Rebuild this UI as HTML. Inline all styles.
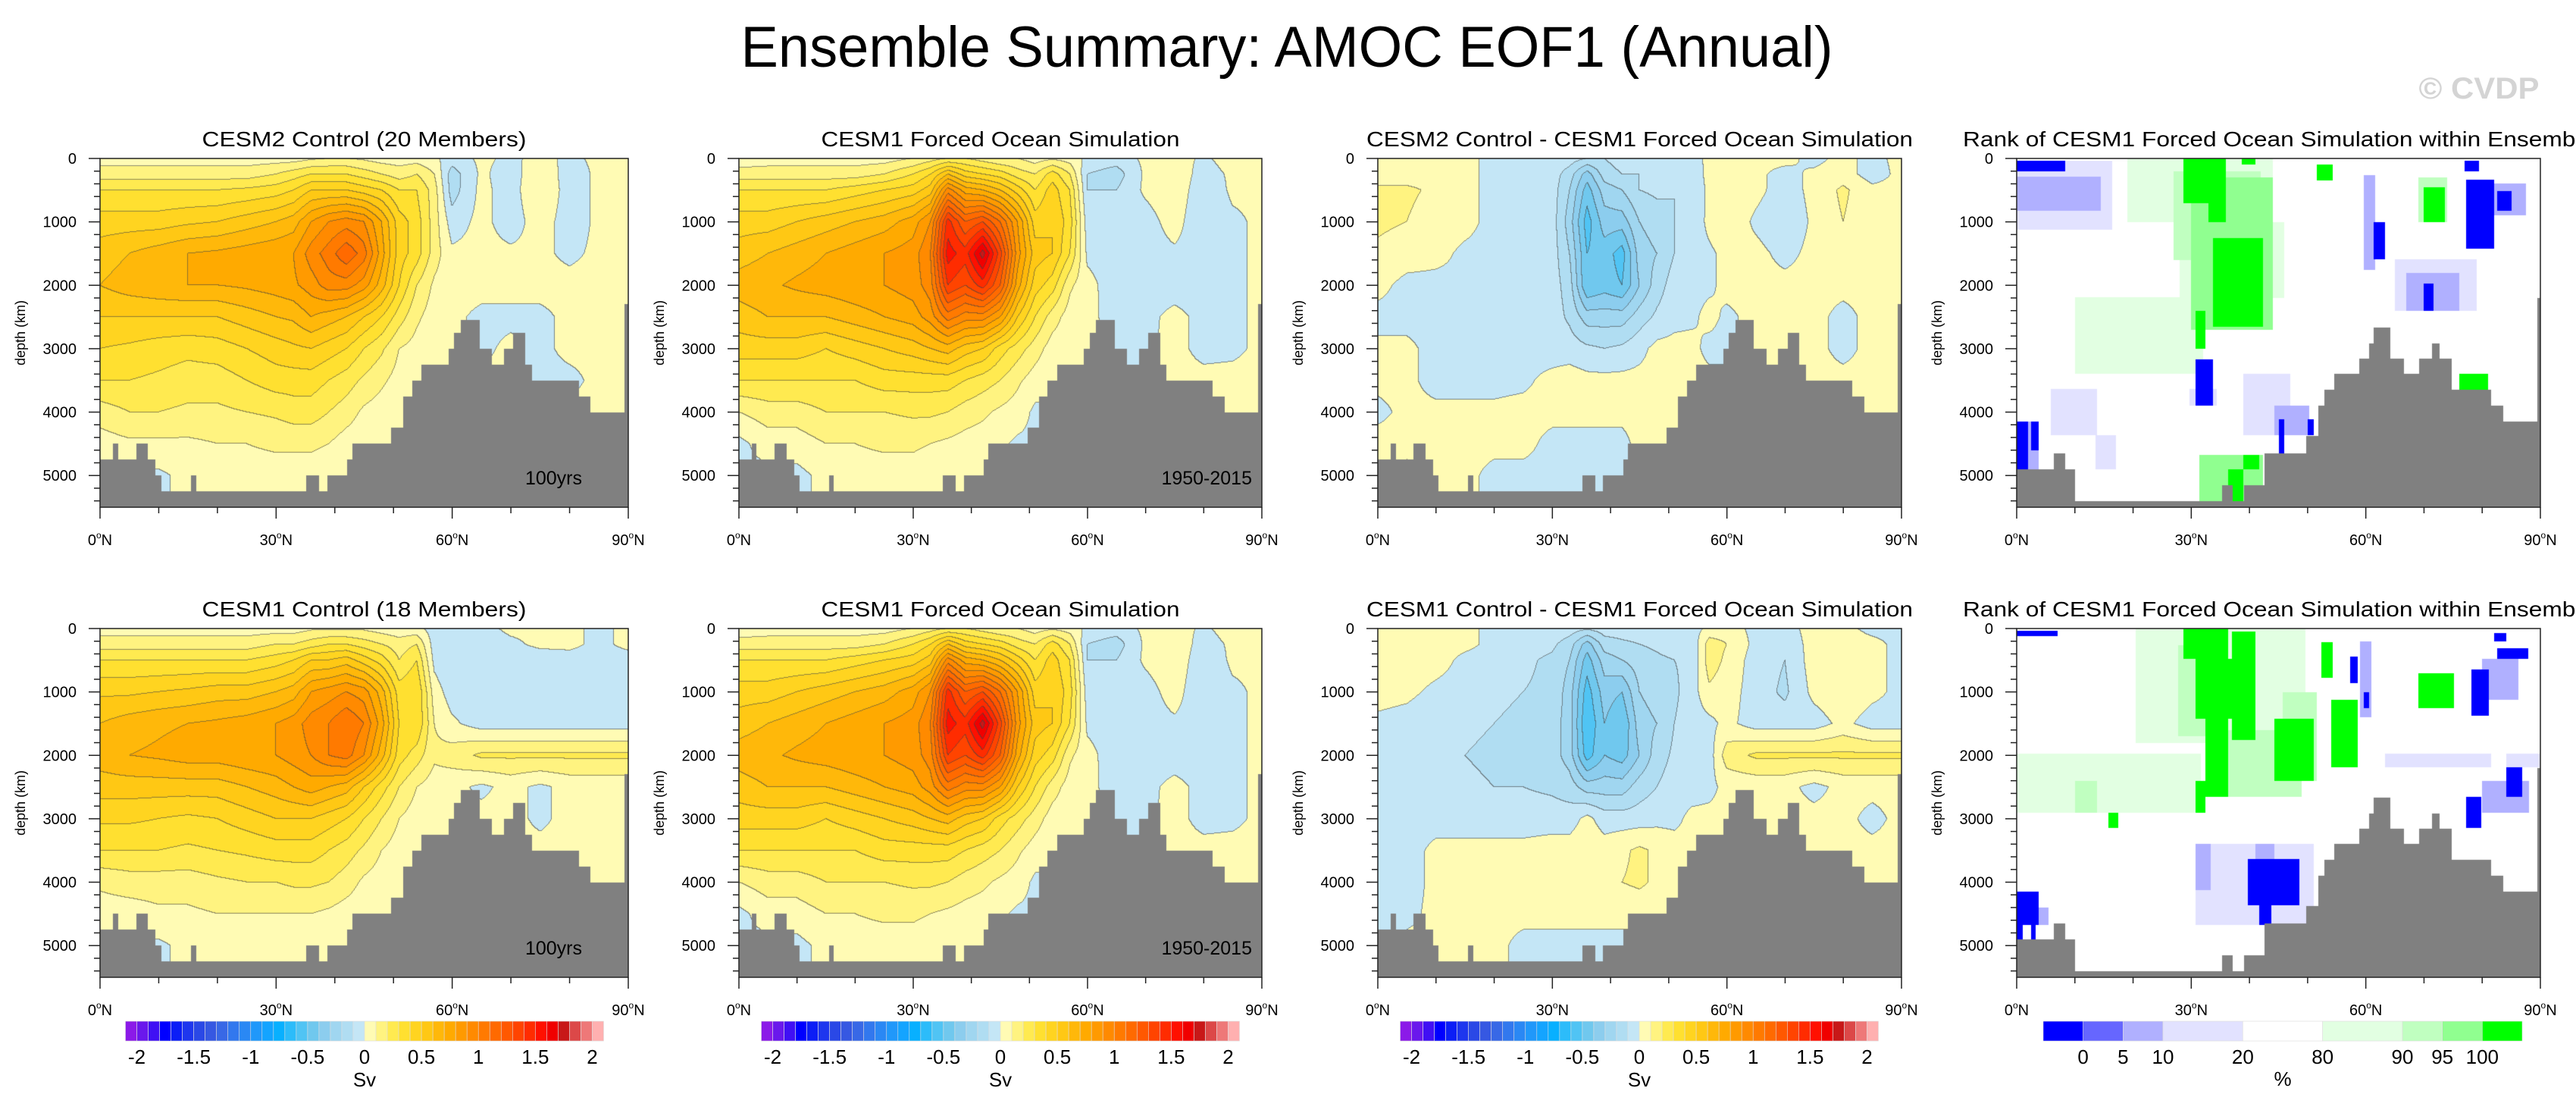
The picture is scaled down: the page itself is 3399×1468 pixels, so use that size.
<!DOCTYPE html>
<html><head><meta charset="utf-8"><style>
html,body{margin:0;padding:0;background:#fff;}
#wrap{position:relative;width:3399px;height:1468px;overflow:hidden;background:#fff;font-family:"Liberation Sans",sans-serif;}
canvas{position:absolute;}
svg{position:absolute;left:0;top:0;}
</style></head><body>
<div id="wrap">
<svg id="ov" width="3399" height="1468" viewBox="0 0 3399 1468">
<text x="1698" y="88" font-size="76" text-anchor="middle" textLength="1441" lengthAdjust="spacingAndGlyphs" font-family="Liberation Sans, sans-serif">Ensemble Summary: AMOC EOF1 (Annual)</text>
<text x="3271" y="130" font-size="40" font-weight="bold" fill="#d4d4d4" text-anchor="middle" textLength="159" lengthAdjust="spacingAndGlyphs" font-family="Liberation Sans, sans-serif">© CVDP</text>
</svg>
</div>
<script>
// ---- data ----
const lats = [0,5,10,15,20,25,30,33,36,39,42,45,48,51,54,57,60,65,70,75,80,85,90];
const deps = [0,250,500,1000,1500,2000,2500,3000,3500,4000,4500,5000,5500];

const fieldCesm2Ctrl = [
[.05,.05,.05,.05,.05,.05,.05,.05,.08,.1,.1,.08,.05,.05,.05,.02,-.05,.02,-.02,.03,-.02,.02,.02],
[.15,.15,.15,.15,.15,.15,.2,.25,.3,.3,.3,.25,.2,.15,.2,.1,-.15,.02,-.05,.08,-.05,.02,.02],
[.3,.3,.3,.3,.3,.32,.35,.4,.5,.5,.5,.45,.4,.3,.3,.15,-.15,.03,-.05,.1,-.05,.02,.02],
[.45,.45,.45,.48,.5,.55,.6,.65,.8,.9,.95,.9,.7,.45,.35,.15,-.05,.03,-.05,.05,-.05,.02,.02],
[.55,.6,.65,.7,.72,.75,.78,.8,.95,1.05,1.18,1.05,.75,.45,.35,.15,.02,.03,.02,.02,-.02,.02,.02],
[.6,.65,.68,.7,.7,.72,.75,.78,.85,.95,.95,.85,.65,.4,.2,.08,.03,.03,.03,.03,.03,.03,.03],
[.5,.5,.5,.5,.5,.55,.6,.62,.7,.65,.6,.5,.4,.25,.12,.05,.02,-.02,-.02,-.02,.02,.02,.02],
[.4,.38,.35,.33,.35,.4,.45,.48,.5,.45,.4,.3,.22,.1,.06,.03,.02,-.02,.02,-.02,.02,.02,.02],
[.3,.3,.28,.25,.25,.3,.35,.35,.35,.3,.25,.18,.12,.06,.03,.02,.02,.02,.02,-.02,-.02,.02,.02],
[.15,.2,.2,.18,.18,.2,.22,.25,.25,.2,.15,.08,.05,.03,.02,.02,.02,.02,.02,.02,.02,.02,.02],
[.05,.08,.08,.08,.1,.1,.12,.12,.12,.1,.05,.03,.03,.02,.02,.02,.02,.02,.02,.02,.02,.02,.02],
[-.02,-.02,-.02,.03,.05,.05,.05,.05,.05,.03,.02,-.02,.02,.02,.02,.02,.02,.02,.02,.02,.02,.02,.02],
[-.02,-.02,-.02,.03,.05,.05,.05,.05,.05,.03,.02,-.02,.02,.02,.02,.02,.02,.02,.02,.02,.02,.02,.02]];

const fieldForced = [
[.03,.05,.05,.05,.05,.05,.1,.15,.2,.2,.15,.1,.1,.05,.08,.05,-.02,-.05,.02,.05,-.02,.05,.02],
[.15,.15,.15,.15,.15,.2,.3,.4,.6,.45,.4,.35,.25,.2,.35,.2,-.1,-.15,.02,.08,-.05,.02,.02],
[.3,.3,.3,.3,.35,.4,.45,.55,.95,.75,.7,.6,.45,.3,.45,.3,-.1,-.1,.02,.08,-.08,.02,.02],
[.45,.45,.5,.55,.6,.65,.75,.9,1.45,1.2,1.3,1.1,.8,.45,.5,.35,-.05,-.05,-.05,.05,-.1,-.02,.02],
[.55,.6,.65,.7,.75,.8,.85,1.0,1.55,1.45,1.75,1.35,.85,.55,.5,.3,-.02,-.05,-.05,-.02,-.05,-.02,.02],
[.65,.68,.72,.75,.78,.8,.85,.95,1.4,1.3,1.45,1.2,.75,.45,.35,.12,.03,-.05,-.05,-.05,-.05,-.02,.02],
[.55,.6,.6,.6,.65,.7,.75,.85,1.05,.95,.95,.8,.5,.3,.15,.05,.02,-.03,-.03,.03,-.03,-.02,.02],
[.45,.45,.45,.4,.45,.5,.55,.6,.65,.55,.5,.35,.25,.15,.05,.03,.02,-.02,-.02,.03,-.03,-.02,.02],
[.3,.3,.3,.3,.3,.35,.35,.35,.35,.3,.25,.2,.12,.05,.02,.02,.02,-.02,-.02,.03,.03,.03,.03],
[.1,.15,.15,.2,.2,.2,.22,.22,.2,.15,.12,.08,.05,-.02,-.02,.02,.02,.02,.02,.02,.02,.02,.02],
[-.03,.05,.05,.1,.1,.12,.12,.1,.08,.06,.05,.02,-.02,-.02,.02,.02,.02,.02,.02,.02,.02,.02,.02],
[-.03,-.03,-.03,.03,.05,.05,.05,.03,.03,.02,.02,.02,-.02,.02,.02,.02,.02,.02,.02,.02,.02,.02,.02],
[-.03,-.03,-.03,.03,.05,.05,.05,.03,.03,.02,.02,.02,-.02,.02,.02,.02,.02,.02,.02,.02,.02,.02,.02]];

const fieldDiffCesm2 = [
[.03,.03,.03,.03,-.03,-.03,-.03,-.05,-.1,-.1,-.05,-.05,-.05,-.05,-.05,.03,.03,.02,.03,-.03,.03,-.03,.03],
[.05,.05,.05,.03,-.03,-.03,-.05,-.15,-.35,-.15,-.1,-.1,-.05,-.08,-.1,.05,.05,.02,-.03,.02,.05,-.05,.03],
[.12,.12,.08,.03,-.03,-.03,-.05,-.2,-.45,-.25,-.2,-.1,-.08,-.1,-.1,.03,.08,.03,-.05,.03,.12,.03,.03],
[.12,.1,.05,.03,-.03,-.03,-.05,-.25,-.55,-.35,-.35,-.2,-.15,-.1,-.08,.03,.08,-.02,-.08,.02,.1,.03,.03],
[.08,.05,.03,-.02,-.03,-.03,-.05,-.2,-.5,-.45,-.55,-.25,-.2,-.1,-.05,-.02,.03,.03,-.03,.03,.05,.03,.03],
[.03,-.03,-.03,-.02,-.03,-.03,-.05,-.15,-.5,-.45,-.5,-.3,-.15,-.05,-.03,-.02,.03,.03,.03,.03,.03,.03,.03],
[-.03,-.03,-.03,-.03,-.03,-.03,-.05,-.12,-.25,-.25,-.25,-.15,-.08,-.03,-.02,.03,-.02,.03,.03,.03,-.03,.03,.03],
[.02,.02,-.03,-.03,-.03,-.03,-.05,-.05,-.08,-.1,-.08,-.03,.03,.03,.03,-.03,-.03,.03,.03,.03,-.03,.03,.03],
[.02,.02,-.03,-.03,-.03,-.02,.03,.05,.03,.03,.03,.03,.03,.03,.03,.03,.03,.03,.03,.03,.03,.03,.03],
[-.02,.02,.02,.02,.02,.03,.03,.03,.03,.03,.03,.03,.03,.03,.03,.03,.03,.03,.03,.03,.03,.03,.03],
[.03,.03,.03,.03,.03,.03,-.03,-.03,-.03,-.03,-.03,.03,.03,.03,.03,.03,.03,.03,.03,.03,.03,.03,.03],
[.03,-.03,.03,.03,-.03,-.03,-.03,-.03,-.03,-.03,-.03,.03,.03,.03,.03,.03,.03,.03,.03,.03,.03,.03,.03],
[.03,-.03,.03,.03,-.03,-.03,-.03,-.03,-.03,-.03,-.03,.03,.03,.03,.03,.03,.03,.03,.03,.03,.03,.03,.03]];

const fieldCesm1Ctrl = [
[.05,.05,.05,.05,.05,.05,.05,.05,.08,.08,.08,.08,.05,.03,.03,-.05,-.05,-.03,.02,.02,.03,-.03,.03],
[.15,.15,.15,.15,.15,.15,.2,.2,.25,.3,.3,.25,.2,.15,.2,-.05,-.1,-.05,-.02,.02,.03,-.03,.03],
[.3,.3,.3,.3,.3,.3,.35,.4,.5,.5,.55,.45,.35,.2,.3,-.03,-.1,-.05,-.05,-.05,-.05,-.05,-.05],
[.48,.48,.5,.52,.55,.55,.6,.65,.8,.85,.9,.85,.65,.35,.4,.05,-.05,-.05,-.08,-.05,-.05,-.05,-.05],
[.6,.65,.68,.7,.72,.75,.8,.85,.95,1.0,1.1,1.0,.75,.4,.4,.1,.02,-.05,-.05,-.05,-.05,-.05,-.05],
[.65,.7,.72,.75,.75,.78,.8,.85,.9,1.0,1.05,.9,.65,.35,.25,.12,.15,.22,.22,.22,.22,.22,.22],
[.55,.55,.55,.55,.55,.6,.65,.7,.75,.7,.65,.5,.35,.2,.1,.05,.03,-.02,.03,-.02,.03,.03,.03],
[.42,.42,.4,.38,.4,.45,.5,.5,.5,.45,.4,.3,.2,.1,.05,.03,.03,.03,.03,-.02,.03,.03,.03],
[.3,.3,.3,.28,.3,.32,.35,.35,.35,.3,.25,.18,.1,.05,.03,.03,.03,.03,.03,.03,.03,.03,.03],
[.12,.15,.15,.15,.18,.2,.2,.22,.22,.2,.15,.08,.05,.03,.03,.03,.03,.03,.03,.03,.03,.03,.03],
[.05,.05,.08,.08,.1,.1,.1,.1,.1,.08,.05,.03,.03,.03,.03,.03,.03,.03,.03,.03,.03,.03,.03],
[.03,-.02,-.02,.03,.05,.05,.05,.05,.05,.03,.03,.03,.03,.03,.03,.03,.03,.03,.03,.03,.03,.03,.03],
[.03,-.02,-.02,.03,.05,.05,.05,.05,.05,.03,.03,.03,.03,.03,.03,.03,.03,.03,.03,.03,.03,.03,.03]];

const fieldDiffCesm1 = [
[.03,.03,.03,.03,-.03,-.03,-.03,-.05,-.08,-.05,-.05,-.05,-.05,-.05,-.05,.03,.05,-.03,-.03,.03,.03,-.03,-.03],
[.05,.05,.05,.03,-.03,-.05,-.08,-.15,-.35,-.15,-.12,-.1,-.08,-.05,-.08,.15,.1,-.03,-.05,.03,.05,.03,-.03],
[.08,.08,.05,-.03,-.05,-.08,-.12,-.2,-.45,-.25,-.2,-.15,-.12,-.1,-.08,.15,.08,-.05,-.1,.05,.08,.03,-.03],
[.05,.03,-.03,-.05,-.08,-.1,-.12,-.25,-.55,-.35,-.4,-.2,-.15,-.12,-.05,.08,.05,-.05,-.12,.03,.08,.03,-.03],
[-.03,-.05,-.08,-.08,-.1,-.12,-.15,-.25,-.6,-.4,-.5,-.25,-.2,-.1,-.05,-.03,.03,-.05,-.05,-.05,.03,-.05,-.05],
[-.05,-.08,-.1,-.1,-.12,-.12,-.15,-.25,-.55,-.4,-.45,-.3,-.15,-.08,-.05,-.05,.15,.22,.22,.22,.22,.22,.22],
[-.08,-.08,-.08,-.08,-.1,-.1,-.12,-.15,-.25,-.25,-.25,-.15,-.1,-.05,-.05,-.03,.03,.03,.03,-.03,.03,.03,.03],
[-.05,-.05,-.05,-.05,-.05,-.05,-.05,-.05,.03,-.05,-.05,-.05,-.03,-.03,.03,.03,.03,.03,.03,.03,.03,-.03,.03],
[-.05,-.05,.03,.03,.03,.03,.05,.05,.08,.05,.08,.12,.08,.05,.03,.03,.03,.03,.03,.03,.03,.03,.03],
[-.05,-.05,.03,.03,.03,.03,.05,.05,.05,.05,.1,.12,.08,.05,.03,.03,.03,.03,.03,.03,.03,.03,.03],
[-.03,-.03,.03,.03,.03,.03,.03,.03,.03,.03,.03,.03,.03,.03,.03,.03,.03,.03,.03,.03,.03,.03,.03],
[-.03,.03,.03,.03,.03,-.03,-.03,-.03,-.03,-.03,-.03,-.03,-.03,.03,.03,.03,.03,.03,.03,.03,.03,.03,.03],
[-.03,.03,.03,.03,.03,-.03,-.03,-.03,-.03,-.03,-.03,-.03,-.03,.03,.03,.03,.03,.03,.03,.03,.03,.03,.03]];

// rank patches: [lat0, lat1, depth0, depth1, class]
const rankPatchesTop = [
[0,16.4,40,1120,3],[0,14.4,290,820,2],[0,8.4,40,200,0],
[19,44,0,1000,5],[28,46,1000,2200,5],[10,32,2190,3400,5],
[27,42,200,1600,6],[30,44,300,2700,7],[28.7,36,0,700,8],[33,36,300,1000,8],
[33.7,42.3,1250,2660,8],[30.7,32.4,2400,3000,8],[38.7,41,0,100,8],[51.6,54.3,100,350,8],
[69,74,300,1000,6],[70,73.6,450,1000,8],[76,81,3400,3660,8],
[81.5,87.5,400,900,2],[77.2,82,330,1420,0],[82.6,85,520,820,0],[77,79.5,40,200,0],
[59.6,61.6,260,1760,2],[61.3,63.3,1010,1590,0],[65,79,1590,2400,3],[67,76,1800,2400,2],[70,71.6,1970,2400,0],
[29.7,34.4,3640,3900,3],[30.7,33.7,3170,3900,0],[5.8,13.8,3640,4370,3],[39,47,3400,4370,3],
[44.3,50.3,3900,4370,2],[45,46,4110,4670,0],[50,51,4110,4370,0],
[0,3.8,4150,4900,2],[0,2,4150,4900,0],[2.5,3.8,4150,4600,0],[13.5,17,4370,4900,3],
[31.4,42.3,4670,5400,7],[36.4,39,4900,5400,8],[39,41.7,4670,4900,8]];
const rankPatchesBottom = [
[0,7,40,120,0],[20.4,49.6,0,1800,5],[0,31.7,1970,2900,5],[10,13.8,2400,2900,6],
[27.7,33,260,1700,6],[36.4,49,1600,2650,6],[45.7,51.6,1000,2400,6],
[28.7,36.4,0,480,8],[30.7,37,480,1420,8],[32.4,36.4,1420,2660,8],[37,41,50,1760,8],
[44.3,51,1420,2400,8],[54,58.6,1120,2190,8],[30.7,32.4,2400,2900,8],[15.7,17.4,2900,3150,8],
[69,75.2,700,1250,8],[52.3,54.3,220,780,8],
[59,61,200,1400,2],[57.3,58.6,440,860,0],[59.6,60.6,1010,1250,0],
[80,86.2,480,1120,2],[78.2,81.2,650,1380,0],[82.6,87.9,310,480,0],[82,84.2,70,200,0],
[63.3,81.5,1970,2190,3],[84.2,89.9,1970,2190,3],[80,88,2400,2900,2],[84.2,86.9,2190,2660,0],[77.2,79.9,2660,3150,0],
[30.7,51,3400,4670,3],[30.7,33.4,3400,4130,2],[41,44.3,3400,3640,2],[39.7,48.6,3640,4370,0],[41.7,43.7,4370,4670,0],
[0,3.8,4150,4670,0],[0,1.1,4670,4900,0],[2.5,3.3,4670,4900,0],[3.8,5.5,4400,4670,2]];

const bathyLat = [0,2.3,3,6.2,8.1,9.4,10.4,15.6,16.3,35.2,37.3,38.8,42.2,43.0,49.7,51.7,53.2,54.8,59.4,60.4,61.5,64.6,66.7,68.9,70.5,72.4,73.5,81.5,83.5,89.4];
const bathyDep = [4750,4500,4750,4500,4750,5000,5250,5000,5250,5000,5250,5000,4750,4500,4250,3750,3500,3250,3000,2750,2550,3000,3250,3000,2750,3250,3500,3750,4000,2300];
const rankBathyLat = [0,6.5,8.3,10,35.3,37,39.1,42.7,49.8,51.9,53,54.6,59,60.6,61.4,64.1,66.5,69.2,71.5,72.6,74.7,81.5,83.5,89.5];
const rankBathyDep = [4900,4650,4900,5400,5150,5400,5150,4650,4380,3900,3650,3400,3160,2920,2670,3160,3400,3160,2920,3160,3650,3900,4150,2200];

const svLevelColors = ["#8b1ae8","#6a18ec","#4010f4","#0000ff","#0c1ef6","#1e36ee","#2a48e6","#3658e2","#3868e6","#3278ee","#2a88f4","#2098fa","#14a4ff","#08b0ff","#2cbcfa","#50c4f4","#70c8ee","#8ccdee","#a0d6f0","#b0ddf2","#c4e6f6",
"#fffbb4","#fff380","#ffea50","#ffe030","#ffd420","#ffc814","#ffb80a","#ffaa00","#ff9a00","#ff8a00","#ff7a00","#ff6a00","#ff5800","#ff4400","#ff2c00","#ff1000","#f00000","#c81818","#dc4848","#ee7878","#ffb0b0"];
const svTicks = [-2,-1.5,-1,-0.5,0,0.5,1,1.5,2];
const svTickLabels = ["-2","-1.5","-1","-0.5","0","0.5","1","1.5","2"];
const rankColors = ["#0000ff","#6666ff","#b0b0ff","#e2e2ff","#ffffff","#e2ffe2","#c0ffc0","#90ff90","#00ff00"];
const rankBoxUnits = [1,1,1,2,2,2,1,1,1];
const rankTickLabels = ["0","5","10","20","80","90","95","100"];
const depthTicks = [0,1000,2000,3000,4000,5000];
const latTicks = [0,30,60,90];

// ---- layout ----
const colLeft = [132,975,1818,2661];
const colWidth = [697,690,691,691];
const rowTop = [209,829];
const PH = 460, DMAX = 5500;
const panels = [
 {c:0,r:0,kind:'f',data:fieldCesm2Ctrl,title:'CESM2 Control (20 Members)',tl:428,note:'100yrs',name:'cesm2-control'},
 {c:1,r:0,kind:'f',data:fieldForced,title:'CESM1 Forced Ocean Simulation',tl:473,note:'1950-2015',name:'forced-ocean-top'},
 {c:2,r:0,kind:'f',data:fieldDiffCesm2,title:'CESM2 Control - CESM1 Forced Ocean Simulation',tl:721,note:'',name:'cesm2-minus-forced'},
 {c:3,r:0,kind:'r',data:rankPatchesTop,title:'Rank of CESM1 Forced Ocean Simulation within Ensemble',tl:833,note:'',name:'rank-cesm2'},
 {c:0,r:1,kind:'f',data:fieldCesm1Ctrl,title:'CESM1 Control (18 Members)',tl:428,note:'100yrs',name:'cesm1-control'},
 {c:1,r:1,kind:'f',data:fieldForced,title:'CESM1 Forced Ocean Simulation',tl:473,note:'1950-2015',name:'forced-ocean-bottom'},
 {c:2,r:1,kind:'f',data:fieldDiffCesm1,title:'CESM1 Control - CESM1 Forced Ocean Simulation',tl:721,note:'',name:'cesm1-minus-forced'},
 {c:3,r:1,kind:'r',data:rankPatchesBottom,title:'Rank of CESM1 Forced Ocean Simulation within Ensemble',tl:833,note:'',name:'rank-cesm1'}
];

function hex(c){return [parseInt(c.substr(1,2),16),parseInt(c.substr(3,2),16),parseInt(c.substr(5,2),16)];}
function seg(arr,v){for(let i=0;i<arr.length-2;i++){if(v<=arr[i+1])return i;}return arr.length-2;}
const wrap = document.getElementById('wrap');
const svg = document.getElementById('ov');
const NS = 'http://www.w3.org/2000/svg';
function mk(tag, attrs){const e=document.createElementNS(NS,tag);for(const k in attrs)e.setAttribute(k,attrs[k]);svg.appendChild(e);return e;}

panels.forEach(function(p){
  const L=colLeft[p.c], W=colWidth[p.c], T=rowTop[p.r];
  const xs = lat => lat/90*W;
  const ys = d => d/DMAX*PH;
  const cv=document.createElement('canvas');
  cv.width=W; cv.height=PH; cv.style.left=L+'px'; cv.style.top=T+'px';
  
  
  wrap.insertBefore(cv, svg);
  const ctx=cv.getContext('2d');
  if(p.kind==='f'){
    const img=ctx.createImageData(W,PH);
    const bins=new Int16Array(W*PH);
    const cols=svLevelColors.map(hex);
    for(let x=0;x<W;x++){
      const lat=(x+0.5)/W*90, i=seg(lats,lat), fx=(lat-lats[i])/(lats[i+1]-lats[i]);
      for(let y=0;y<PH;y++){
        const d=(y+0.5)/PH*DMAX, j=seg(deps,d), fy=(d-deps[j])/(deps[j+1]-deps[j]);
        const g=p.data;
        const v=(g[j][i]*(1-fx)+g[j][i+1]*fx)*(1-fy)+(g[j+1][i]*(1-fx)+g[j+1][i+1]*fx)*fy;
        bins[y*W+x]=Math.floor(v*10+1e-6);
      }
    }
    for(let y=0;y<PH;y++)for(let x=0;x<W;x++){
      const b=bins[y*W+x];
      let ci=Math.max(0,Math.min(41,b+21));
      let c=cols[ci];
      const edge=(x<W-1&&bins[y*W+x+1]!==b)||(y<PH-1&&bins[(y+1)*W+x]!==b);
      const k=(y*W+x)*4;
      if(edge){img.data[k]=c[0]*0.4+40;img.data[k+1]=c[1]*0.4+40;img.data[k+2]=c[2]*0.4+40;}
      else{img.data[k]=c[0];img.data[k+1]=c[1];img.data[k+2]=c[2];}
      img.data[k+3]=255;
    }
    ctx.putImageData(img,0,0);
  } else {
    ctx.fillStyle='#ffffff'; ctx.fillRect(0,0,W,PH);
    p.data.forEach(function(q){
      ctx.fillStyle=rankColors[q[4]];
      const x0=Math.round(xs(q[0])), x1=Math.round(xs(q[1])), y0=Math.round(ys(q[2])), y1=Math.round(ys(q[3]));
      ctx.fillRect(x0,y0,x1-x0,y1-y0);
    });
  }
  const bl = p.kind==='f'?bathyLat:rankBathyLat, bd = p.kind==='f'?bathyDep:rankBathyDep;
  ctx.fillStyle='#808080';
  for(let i=0;i<bl.length;i++){
    const x0=Math.floor(xs(bl[i])), x1=Math.ceil(xs(i<bl.length-1?bl[i+1]:90));
    const y0=Math.round(ys(bd[i]));
    ctx.fillRect(x0,y0,x1-x0,PH-y0);
  }
  // frame
  const fr=mk('rect',{x:L,y:T,width:W,height:PH,fill:'none',stroke:'#222',"stroke-width":1.5});
  
  
  // title
  const tt=mk('text',{x:L+W/2,y:T-16,"font-size":28,"text-anchor":"middle",textLength:p.tl,lengthAdjust:"spacingAndGlyphs"});
  tt.textContent=p.title;
  
  
  // y ticks
  for(let d=0; d<=5400; d+=200){
    const major = d%1000===0;
    const tk=mk('line',{x1:L,x2:L-(major?15:8),y1:T+ys(d),y2:T+ys(d),stroke:'#222',"stroke-width":1.5});
    
    
  }
  depthTicks.forEach(function(d){
    const lb=mk('text',{x:L-31,y:T+ys(d)+7,"font-size":20,"text-anchor":"end"});
    lb.textContent=String(d);
    
    
  });
  const yt=mk('text',{x:L-99,y:T+PH/2,"font-size":18,"text-anchor":"middle",transform:'rotate(-90 '+(L-99)+' '+(T+PH/2)+')'});
  yt.textContent='depth (km)';
  
  
  // x ticks
  for(let la=0; la<=90; la+=10){
    const major = la%30===0;
    const tk=mk('line',{x1:L+xs(la),x2:L+xs(la),y1:T+PH,y2:T+PH+(major?15:8),stroke:'#222',"stroke-width":1.5});
    
    
  }
  latTicks.forEach(function(la){
    const lb=mk('text',{x:L+xs(la),y:T+PH+50,"font-size":20,"text-anchor":"middle"});
    lb.innerHTML=la+'<tspan font-size="12" dy="-9">o</tspan><tspan dy="9">N</tspan>';
    
    
  });
  if(p.note){
    const nt=mk('text',{x:L+W-(p.note==='100yrs'?61:13),y:T+430,"font-size":25,"text-anchor":"end"});
    nt.textContent=p.note;
    
    
  }
});

// colorbars
const cbCenters=[481,1320,2163,3007];
const CBW=631, CBY=1347, CBH=26;
for(let c=0;c<3;c++){
  const x0=cbCenters[c]-CBW/2, bw=CBW/svLevelColors.length;
  svLevelColors.forEach(function(col,i){
    const r=mk('rect',{x:x0+i*bw,y:CBY,width:bw,height:CBH,fill:col,stroke:'#dddddd',"stroke-width":0.6});
    
    
  });
  svTicks.forEach(function(v,i){
    const t=mk('text',{x:x0+(v+2.1)/4.2*CBW,y:1403,"font-size":26,"text-anchor":"middle"});
    t.textContent=svTickLabels[i];
    
    
  });
  const u=mk('text',{x:cbCenters[c],y:1433,"font-size":26,"text-anchor":"middle"});
  u.textContent='Sv';
  
  
}
{
  const x0=3012-316, tot=rankBoxUnits.reduce((a,b)=>a+b,0), uw=632/tot;
  let acc=0; const bounds=[];
  rankColors.forEach(function(col,i){
    const r=mk('rect',{x:x0+acc*uw,y:CBY,width:rankBoxUnits[i]*uw,height:CBH,fill:col,stroke:'#dddddd',"stroke-width":0.6});
    
    
    acc+=rankBoxUnits[i]; bounds.push(acc);
  });
  rankTickLabels.forEach(function(s,i){
    const t=mk('text',{x:x0+bounds[i]*uw,y:1403,"font-size":26,"text-anchor":"middle"});
    t.textContent=s;
    
    
  });
  const u=mk('text',{x:3012,y:1432,"font-size":26,"text-anchor":"middle"});
  u.textContent='%';
  
  
}
</script>
</body></html>
